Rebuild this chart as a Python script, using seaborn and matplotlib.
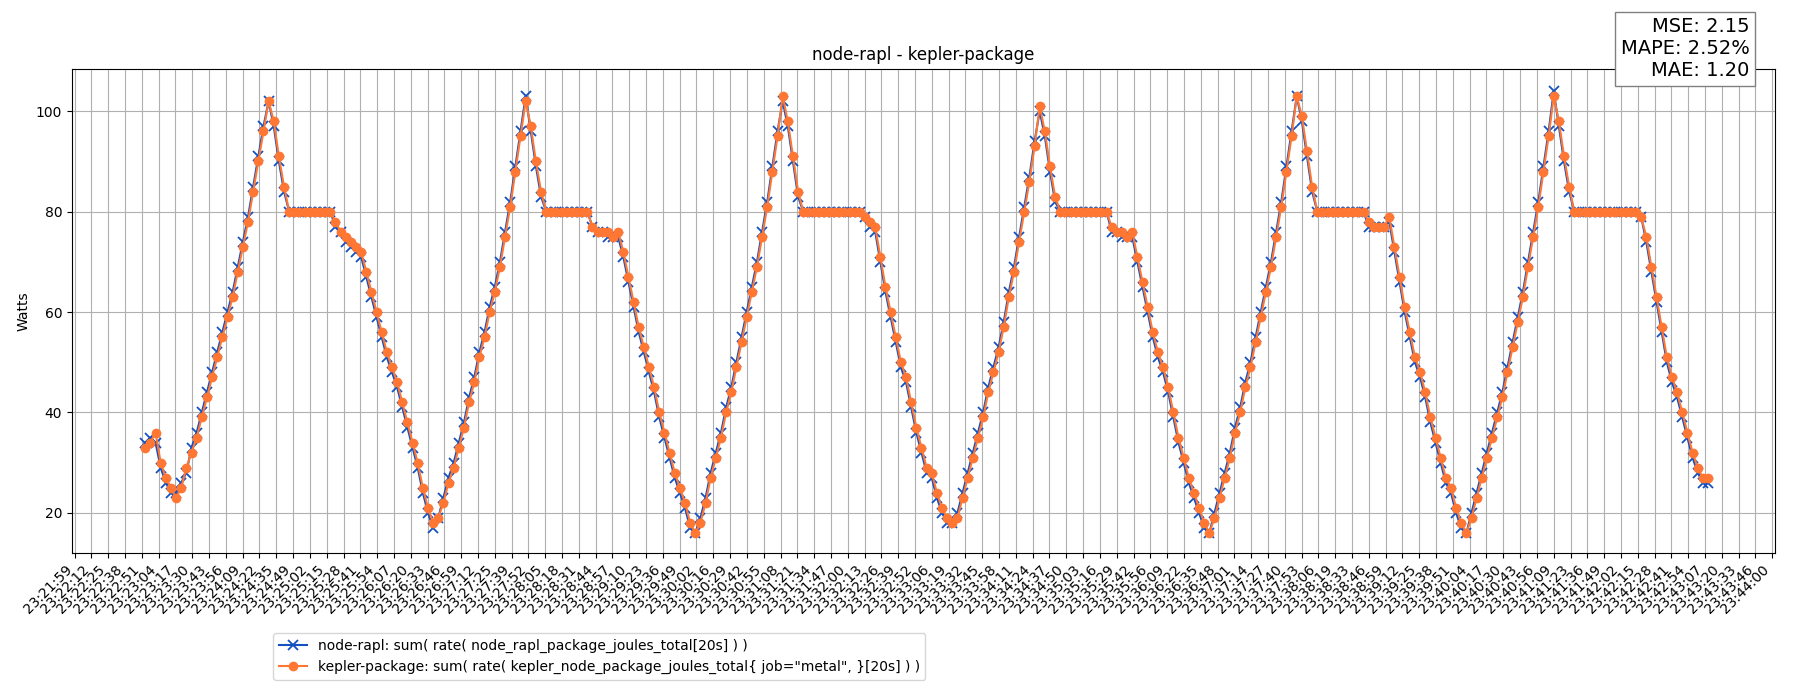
import numpy as np
import pandas as pd
import matplotlib
matplotlib.use("Agg")
import matplotlib.pyplot as plt
import seaborn as sns
from datetime import datetime, timedelta

# seconds after 23:21:59, sampled every 4 s starting at 55 s
t_start = 55
t_step = 4
kepler = [33,34,36,30,27,25,23,
 25,29,32,35,39,43,47,51,55,59,63,68,73,78,84,90,96,102,
 98,91,85,80, 80,80,80,80,80,80,80,80,
 78,76,75,74,73,72,
 68,64,60,56,52,49,46,42,38,34,30,25,21,18,
 19,22,26,29,33,37,42,46,51,55,60,64,69,75,81,88,95,102,
 97,90,84,80, 80,80,80,80,80,80,80,80,
 77,76,76,76,75,76,
 72,67,62,57,53,49,45,40,36,32,28,25,22,18,16,
 18,22,27,31,35,40,44,49,54,59,64,69,75,81,88,95,103,
 98,91,84,80, 80,80,80,80,80,80,80,80,80,80,80,79,
 78,77,
 71,65,60,55,50,47,42,37,33,29,28,24,21,19,18,
 19,23,27,31,35,39,44,48,52,57,63,68,74,80,86,93,101,
 96,89,83,80, 80,80,80,80,80,80,80,80,80,
 77,76,76,75,76,
 71,66,61,56,52,49,45,40,35,31,27,24,21,18,16,
 19,23,27,31,36,40,45,49,54,59,64,69,75,81,88,95,103,
 99,92,85,80, 80,80,80,80,80,80,80,80,80,
 78,77,77,77,79,
 73,67,61,56,51,48,44,39,35,31,27,25,21,18,16,
 19,23,27,31,35,39,43,48,53,58,63,69,75,81,88,95,103,
 98,91,85,80, 80,80,80,80,80,80,80,80,80,80,80,80,79,
 75,69,63,57,51,47,44,40,36,32,29,27,27]
rapl = [34,35,34,29,26,24,24,
 26,28,33,36,40,44,48,52,56,60,64,69,74,79,85,91,97,102,
 97,90,84,80, 80,80,80,80,80,80,80,80,
 77,76,74,73,72,71,
 67,63,59,55,51,48,45,41,37,33,29,24,20,17,
 19,23,27,30,34,38,43,47,52,56,61,65,70,76,82,89,96,103,
 96,89,83,80, 80,80,80,80,80,80,80,80,
 77,76,76,75,75,75,
 71,66,61,56,52,48,44,39,35,31,27,24,21,17,16,
 19,23,28,32,36,41,45,50,55,60,65,70,76,82,89,96,102,
 97,90,83,80, 80,80,80,80,80,80,80,80,80,80,80,79,
 77,76,
 70,64,59,54,49,46,41,36,32,28,27,23,20,18,18,
 20,24,28,32,36,40,45,49,53,58,64,69,75,81,87,94,100,
 95,88,82,80, 80,80,80,80,80,80,80,80,80,
 76,76,75,75,75,
 70,65,60,55,51,48,44,39,34,30,26,23,20,17,16,
 20,24,28,32,37,41,46,50,55,60,65,70,76,82,89,96,103,
 98,91,84,80, 80,80,80,80,80,80,80,80,80,
 77,77,77,77,78,
 72,66,60,55,50,47,43,38,34,30,26,24,20,17,16,
 20,24,28,32,36,40,44,49,54,59,64,70,76,82,89,96,104,
 97,90,84,80, 80,80,80,80,80,80,80,80,80,80,80,80,79,
 74,68,62,56,50,46,43,39,35,31,28,26,26]

n = min(len(kepler), len(rapl))
t = [t_start + i * t_step for i in range(n)]
lab_r = "node-rapl: sum( rate( node_rapl_package_joules_total[20s] ) )"
lab_k = 'kepler-package: sum( rate( kepler_node_package_joules_total{ job="metal", }[20s] ) )'
df = pd.DataFrame({"t": t * 2,
                   "Watts": rapl[:n] + kepler[:n],
                   "series": [lab_r] * n + [lab_k] * n})

fig = plt.figure(figsize=(18, 7), dpi=100)
ax = fig.add_axes([0.040, 0.21, 0.946, 0.692])
sns.lineplot(data=df[df.series == lab_r], x="t", y="Watts", ax=ax, color="#1450c0",
             marker="x", markersize=7, markeredgewidth=1.3, markeredgecolor="#1450c0",
             linewidth=1.5, label=lab_r)
sns.lineplot(data=df[df.series == lab_k], x="t", y="Watts", ax=ax, color="#ff7733",
             marker="o", markersize=7, markeredgewidth=0, linewidth=1.5, label=lab_k)

base = datetime(2024, 1, 1, 23, 21, 59)
ticks = np.linspace(0, 1321, 102)
ax.set_xticks(ticks)
ax.set_xticklabels([(base + timedelta(seconds=float(s))).strftime("%H:%M:%S") for s in ticks],
                   rotation=45, ha="right", fontsize=10)
ax.set_xlim(-2, 1323)
ax.set_ylim(12, 108.5)
ax.set_yticks([20, 40, 60, 80, 100])
ax.grid(True, color="#b0b0b0", linewidth=0.8)
ax.set_xlabel("")
ax.set_ylabel("Watts")
ax.set_title("node-rapl - kepler-package")
ax.get_legend().remove()
h, l = ax.get_legend_handles_labels()
fig.legend(h, l, loc="upper left", bbox_to_anchor=(0.148, 0.105), fontsize=10)
fig.text(0.972, 0.885, "MSE: 2.15\nMAPE: 2.52%\nMAE: 1.20", ha="right", va="bottom",
         fontsize=14, bbox=dict(boxstyle="square,pad=0.3", facecolor="white", edgecolor="gray"))
fig.savefig("out.png", dpi=100)
